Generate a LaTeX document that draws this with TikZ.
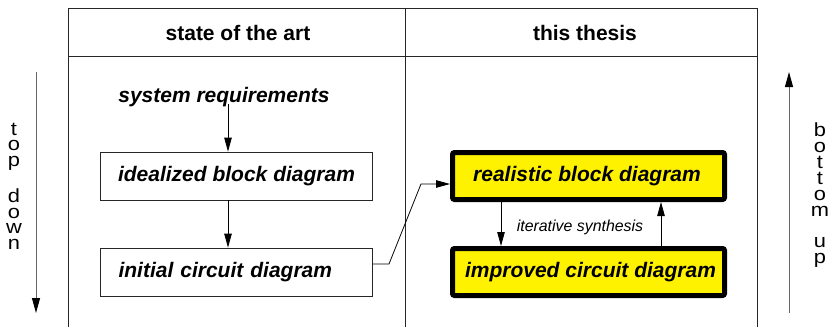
\documentclass[tikz,border=0pt]{standalone}
\usepackage{fontspec}
\setmainfont{Liberation Sans}
\newfontfamily\widesans[FakeStretch=1.15]{Liberation Sans}
\usetikzlibrary{arrows.meta,calc}
\begin{document}
\begin{tikzpicture}[x=1pt,y=-1pt,
  frame/.style={draw=black!85,line width=0.8pt},
  header/.style={font=\fontsize{21}{25}\selectfont\bfseries},
  stage/.style={font=\fontsize{21}{25}\selectfont\bfseries\itshape},
  plainbox/.style={stage,draw=black!85,line width=0.8pt,minimum width=272pt,minimum height=48pt,inner sep=0pt},
  hotbox/.style={stage,draw=black,fill=yellow,line width=5pt,rounded corners=2pt,minimum width=272pt,minimum height=47pt,inner sep=0pt},
  flow/.style={draw=black,line width=0.8pt,-{Triangle[length=14pt,width=7.5pt]}},
  axis/.style={draw=black!60,line width=1pt,-{Triangle[length=15pt,width=8pt,color=black,fill=black]}},
  vlabel/.style={align=center,inner sep=0pt,font=\widesans\fontsize{19}{15.5}\selectfont}
]
\useasboundingbox (0,0) rectangle (830,327);

% table frame
\draw[frame] (68,327) -- (68,8) -- (757,8) -- (757,327);
\draw[frame] (405,8) -- (405,327);
\draw[frame] (68,56) -- (757,56);

% column headers
\node[header] (hleft) at (238,33) {state of the art};
\node[header] (hright) at (585,33) {this thesis};

% state of the art flow
\node[stage] (req) at (224,97) {system requirements};
\node[plainbox] (ibd) at (236.5,176) {idealized block diagram};
\node[plainbox,text width=236pt,inner xsep=18pt,align=left] (icd) at (236.5,272) {initial circuit diagram};
\coordinate (reqout) at (228,104);
\draw[flow] (reqout) -- (reqout |- ibd.north);
\draw[flow] (reqout |- ibd.south) -- (reqout |- icd.north);

% this thesis flow
\node[hotbox] (rbd) at (588.5,176) {realistic block diagram\hspace*{3pt}};
\node[hotbox] (imp) at (588.5,272) {\hspace*{4pt}improved circuit diagram};
\coordinate (bendA) at (389,264);
\coordinate (bendB) at (421,184);
\draw[flow] (icd.east |- bendA) -- (bendA) -- (bendB) -- (rbd.west |- bendB);

\coordinate (downx) at (501,0);
\coordinate (upx) at (661,0);
\draw[flow] (downx |- rbd.south) -- (downx |- imp.north);
\draw[flow] (upx |- imp.north) -- (upx |- rbd.south);
\node[font=\fontsize{15.9}{19}\selectfont\itshape] (iter) at (580,227.5) {iterative synthesis};

% direction axes
\coordinate (tdtop) at (36,72);
\coordinate (tdbot) at (36,313);
\draw[axis] (tdtop) -- (tdbot);
\node[vlabel] (td) at (14,186) {t\\o\\p\\[17.5pt]d\\o\\w\\n};

\coordinate (bubot) at (789,313);
\coordinate (butop) at (789,72);
\draw[axis] (bubot) -- (butop);
\node[vlabel,font=\widesans\fontsize{19}{16}\selectfont] (bu) at (820,195.5) {b\\o\\t\\t\\o\\m\\[15pt]u\\p};
\end{tikzpicture}
\end{document}
